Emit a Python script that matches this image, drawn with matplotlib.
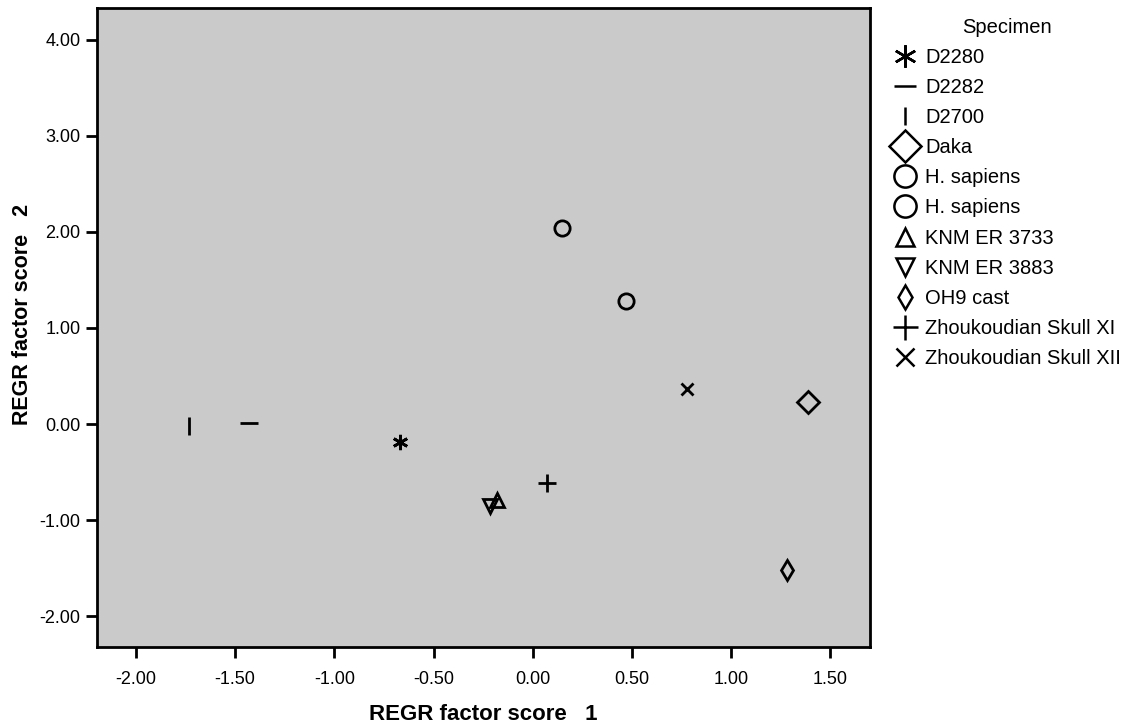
import matplotlib
matplotlib.use("Agg")
import matplotlib.pyplot as plt

plt.rcParams['font.family'] = ['Liberation Sans', 'DejaVu Sans']

# specimen scores
specimens = ["D2280", "D2282", "D2700", "Daka", "H. sapiens", "H. sapiens",
             "KNM ER 3733", "KNM ER 3883", "OH9 cast",
             "Zhoukoudian Skull XI", "Zhoukoudian Skull XII"]
score1 = [-0.67, -1.43, -1.73, 1.385, 0.15, 0.47, -0.18, -0.215, 1.28, 0.07, 0.78]
score2 = [-0.19, 0.01, -0.02, 0.23, 2.04, 1.28, -0.79, -0.85, -1.52, -0.61, 0.36]

xticks = [-2.0, -1.5, -1.0, -0.5, 0.0, 0.5, 1.0, 1.5]
yticks = [-2.0, -1.0, 0.0, 1.0, 2.0, 3.0, 4.0]

markers = [(6, 2, 0), '_', '|', 'D', 'o', 'o', '^', 'v', 'd', '+', 'x']
sizes = [11, 13, 13, 11, 11, 11, 10, 10, 10, 13, 9]
# legend symbols are drawn larger than the plotted ones
leg_sizes = [16, 16, 13, 16, 16, 16, 13, 13, 12, 18, 13]

fig = plt.figure(figsize=(11.44, 7.25), dpi=100)
ax = fig.add_axes([0.0848, 0.1076, 0.6757, 0.8814])
ax.set_facecolor('#cacaca')

for i in range(len(specimens)):
    ax.plot(score1[i], score2[i], linestyle='none', marker=markers[i],
            markersize=sizes[i], markerfacecolor='none', markeredgecolor='black',
            markeredgewidth=2, label=specimens[i])

ax.set_xlim(-2.196, 1.70)
ax.set_ylim(-2.32, 4.33)
ax.set_xticks(xticks)
ax.set_yticks(yticks)
ax.set_xticklabels(["%.2f" % v for v in xticks])
ax.set_yticklabels(["%.2f" % v for v in yticks])
ax.tick_params(direction='out', length=8, width=2, labelsize=13)
ax.tick_params(axis='x', pad=9)
ax.tick_params(axis='y', pad=4)
for s in ax.spines.values():
    s.set_linewidth(2)

ax.set_xlabel("REGR factor score   1", fontsize=16, fontweight='bold', labelpad=12)
ax.set_ylabel("REGR factor score   2", fontsize=15.5, fontweight='bold')
ax.yaxis.set_label_coords(-0.083, 0.52)

leg = fig.legend(loc='upper left', bbox_to_anchor=(888 / 1144, 1 - 14 / 725),
                 frameon=False, title="Specimen", fontsize=14.5, title_fontsize=14.5,
                 handlelength=1.3, handletextpad=0.35, labelspacing=0.55,
                 borderaxespad=0, borderpad=0.2)
leg._legend_box.align = "center"
for h, ms in zip(leg.legend_handles, leg_sizes):
    h.set_markersize(ms)
    h.set_markeredgewidth(1.8)

fig.savefig("out.png", dpi=100)
